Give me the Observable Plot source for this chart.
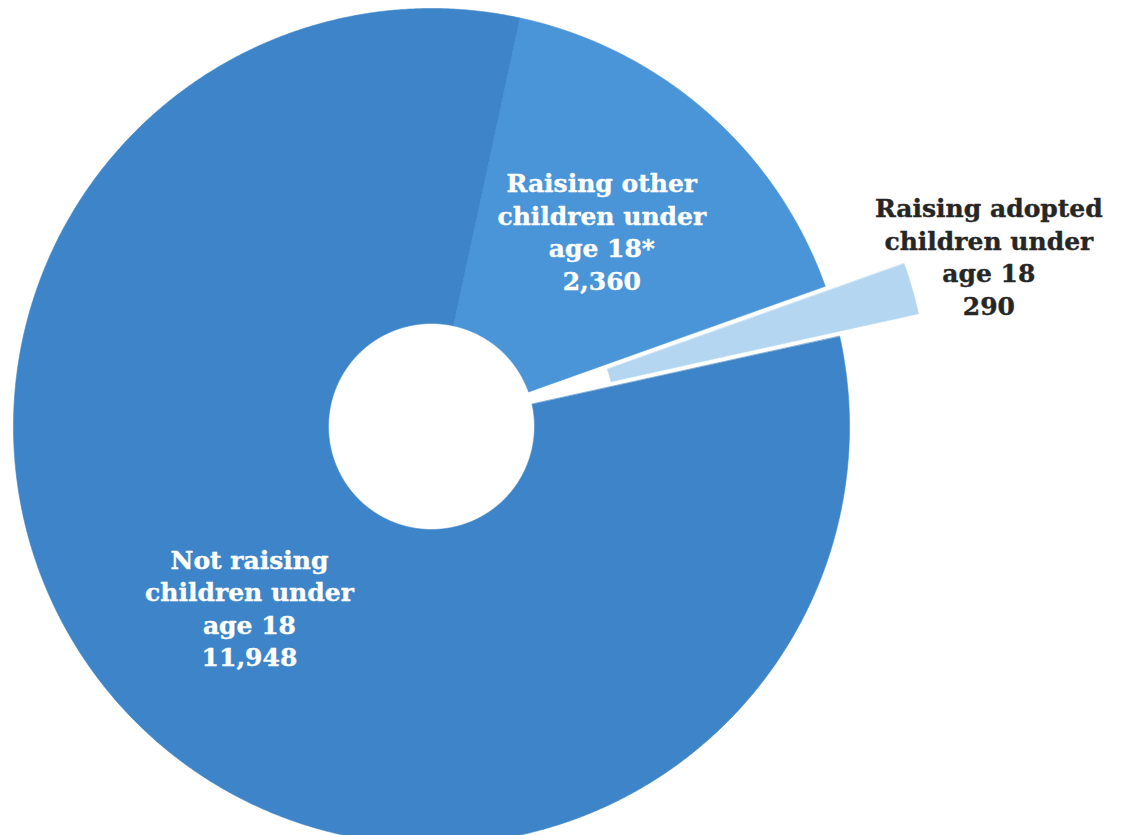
<!DOCTYPE html>
<html>
<head>
<meta charset="utf-8">
<script src="https://cdn.jsdelivr.net/npm/d3@7"></script>
<script src="https://cdn.jsdelivr.net/npm/@observablehq/plot@0.6"></script>
<style>
  html, body { margin: 0; padding: 0; background: #ffffff; }
  #chart { width: 1125px; height: 835px; overflow: hidden; }
</style>
</head>
<body>
<div id="chart"></div>
<script>
// Data
const categories = ["Raising other children under age 18*", "Raising adopted children under age 18", "Not raising children under age 18"];
const labels = ["Raising other\nchildren under\nage 18*\n2,360", "Raising adopted\nchildren under\nage 18\n290", "Not raising\nchildren under\nage 18\n11,948"];
const values = [2360, 290, 11948];
const colors = ["#4a94d8", "#b4d6f1", "#3d85c8"];
const exploded = [false, true, false];
const textColors = ["#ffffff", "#262626", "#ffffff"];

// Geometry (pixels)
const W = 1125, H = 835;
const cx = 431, cy = 426;
const R = 418, r0 = 103;
const explodeOffset = 82;
const startDeg = 12.2;

const pie = d3.pie().sort(null).value(d => d.value)
  .startAngle(startDeg * Math.PI / 180)
  .endAngle(startDeg * Math.PI / 180 + 2 * Math.PI);

const rows = categories.map((c, i) => ({name: c, label: labels[i], value: values[i], color: colors[i], exploded: exploded[i], textColor: textColors[i]}));
const arcs = pie(rows);

const pts = [];
const labelPts = [];
for (const a of arcs) {
  const mid = (a.startAngle + a.endAngle) / 2;
  const off = a.data.exploded ? explodeOffset : 0;
  const ox = off * Math.sin(mid), oy = off * Math.cos(mid);
  const n = Math.max(8, Math.ceil((a.endAngle - a.startAngle) * 180));
  for (let k = 0; k <= n; k++) {
    const t = a.startAngle + (a.endAngle - a.startAngle) * k / n;
    pts.push({name: a.data.name, color: a.data.color, x: ox + R * Math.sin(t), y: oy + R * Math.cos(t)});
  }
  for (let k = n; k >= 0; k--) {
    const t = a.startAngle + (a.endAngle - a.startAngle) * k / n;
    pts.push({name: a.data.name, color: a.data.color, x: ox + r0 * Math.sin(t), y: oy + r0 * Math.cos(t)});
  }
  const lr = a.data.exploded ? 583 : 258;
  labelPts.push({label: a.data.label, color: a.data.textColor, exploded: a.data.exploded, x: lr * Math.sin(mid), y: lr * Math.cos(mid)});
}

const textStyle = {
  x: "x", y: "y", text: "label", fill: d => d.color,
  fontFamily: "DejaVu Serif", fontWeight: "bold", fontSize: 25, lineHeight: 1.3,
  textAnchor: "middle", stroke: d => d.color, strokeWidth: 0.4
};

const chart = Plot.plot({
  width: W,
  height: H,
  margin: 0,
  x: {domain: [-cx, W - cx], axis: null},
  y: {domain: [cy - H, cy], axis: null},
  style: {background: "#ffffff"},
  marks: [
    Plot.line(pts, {x: "x", y: "y", z: "name", fill: d => d.color, stroke: d => d.color, strokeWidth: 0.6, curve: "linear-closed"}),
    Plot.text(labelPts.filter(d => !d.exploded), {...textStyle, dy: -2}),
    Plot.text(labelPts.filter(d => d.exploded), {...textStyle, dy: -10, dx: -3})
  ]
});
document.getElementById("chart").appendChild(chart);
</script>
</body>
</html>
